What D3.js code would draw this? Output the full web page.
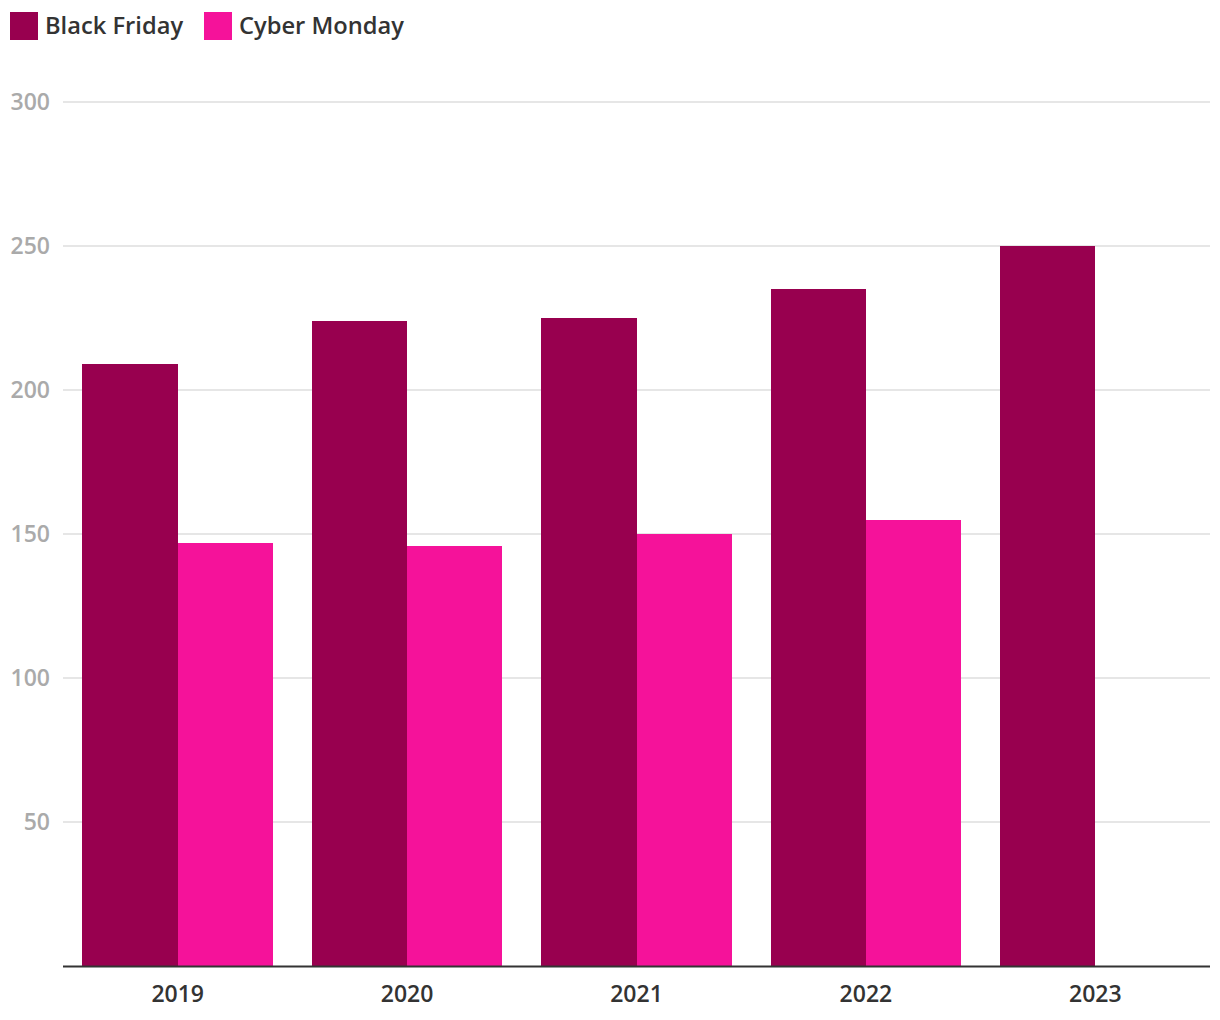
<!DOCTYPE html>
<html><head><meta charset="utf-8">
<script src="https://cdn.jsdelivr.net/npm/d3@7"></script>
<style>body{margin:0;background:#fff;font-family:"Open Sans",sans-serif;}</style>
</head><body>
<svg id="c" width="1220" height="1020"></svg>
<script>
const years = ["2019","2020","2021","2022","2023"];
const seriesNames = ["Black Friday","Cyber Monday"];
const blackFriday = [209,224,225,235,250];
const cyberMonday = [147,146,150,155,null];
const yTicks = [50,100,150,200,250,300];
const colors = ["#98004f","#f5129a"];

const svg = d3.select("#c");
const margin = {left:63, right:10, top:102, bottom:54};
const W = 1220, H = 1020;
const x = d3.scaleBand().domain(years).range([margin.left, W-margin.right]).paddingInner(0.17).paddingOuter(0.085);
const x1 = d3.scaleBand().domain(seriesNames).range([0, x.bandwidth()]);
const y = d3.scaleLinear().domain([0,300]).range([H-margin.bottom, margin.top]);

// grid
svg.append("g").selectAll("line").data(yTicks).join("line")
  .attr("x1", margin.left).attr("x2", W-margin.right)
  .attr("y1", d=>y(d)).attr("y2", d=>y(d))
  .attr("stroke","#e6e6e6").attr("stroke-width",2);
svg.append("g").selectAll("text").data(yTicks).join("text")
  .attr("x", 50).attr("y", d=>y(d)+8).attr("text-anchor","end")
  .attr("font-size",23).attr("font-weight",600).attr("fill","#aaaaaa").text(d=>d);

const data = [blackFriday, cyberMonday];
data.forEach((vals,si)=>{
  svg.append("g").selectAll("rect").data(years.map((yr,i)=>({yr,v:vals[i]})).filter(d=>d.v!=null)).join("rect")
    .attr("x", d=>x(d.yr)+x1(seriesNames[si]))
    .attr("width", x1.bandwidth())
    .attr("y", d=>y(d.v)).attr("height", d=>y(0)-y(d.v))
    .attr("fill", colors[si]).attr("shape-rendering","crispEdges");
});

// x axis
svg.append("line").attr("x1",margin.left).attr("x2",W-margin.right)
  .attr("y1",y(0)+0.5).attr("y2",y(0)+0.5).attr("stroke","#333").attr("stroke-width",2);
svg.append("g").selectAll("text").data(years).join("text")
  .attr("x", d=>x(d)+x.bandwidth()/2).attr("y", 1002).attr("text-anchor","middle")
  .attr("font-size",23).attr("font-weight",600).attr("fill","#333").text(d=>d);

// legend
const lx = [10, 204];
seriesNames.forEach((n,i)=>{
  svg.append("rect").attr("x",lx[i]).attr("y",12).attr("width",28).attr("height",28).attr("fill",colors[i]);
  svg.append("text").attr("x",lx[i]+35).attr("y",34).attr("font-size",23.7).attr("font-weight",600).attr("fill","#333").text(n);
});
</script>
</body></html>
